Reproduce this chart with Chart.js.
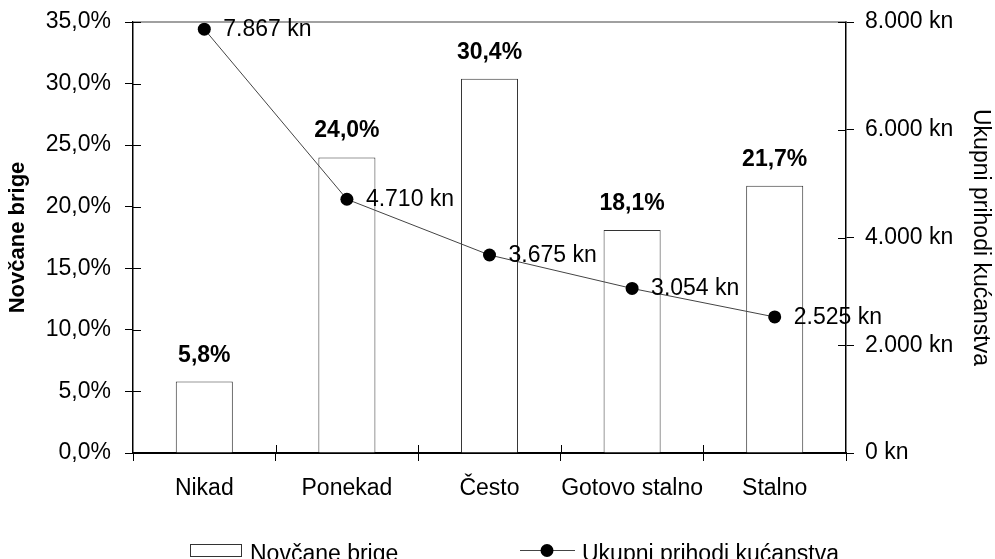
<!DOCTYPE html>
<html lang="hr">
<head>
<meta charset="UTF-8">
<title>Novčane brige i prihodi</title>
<script src="https://cdn.jsdelivr.net/npm/chart.js"></script>
<style>
    body { margin: 0; background: #fff; }
    #wrap { width: 995px; height: 559px; position: relative; }
</style>
</head>
<body>
<div id="wrap"><canvas id="chart"></canvas></div>
<script>
    // data
    const categories = ['Nikad', 'Ponekad', 'Često', 'Gotovo stalno', 'Stalno'];
    const worries = [5.8, 24.0, 30.4, 18.1, 21.7];          // % (left axis)
    const income = [7867, 4710, 3675, 3054, 2525];          // kn (right axis)
    const worriesLabel = 'Novčane brige';
    const incomeLabel = 'Ukupni prihodi kućanstva';

    const FONT = '"Liberation Sans", Arial, sans-serif';
    const SIZE = 23;

    function pct(v) {
        return v.toFixed(1).replace('.', ',') + '%';
    }
    function kn(v) {
        return Math.round(v).toString().replace(/\B(?=(\d{3})+(?!\d))/g, '.') + ' kn';
    }

    // value labels, inner tick halves, top frame line and bottom legend
    const decorations = {
        id: 'decorations',
        afterDatasetsDraw(chart) {
            const ctx = chart.ctx;
            const area = chart.chartArea;
            ctx.save();

            // top frame line
            ctx.strokeStyle = '#808080';
            ctx.lineWidth = 1.5;
            ctx.beginPath();
            ctx.moveTo(area.left, area.top);
            ctx.lineTo(area.right, area.top);
            ctx.stroke();

            // tick marks crossing into the plot
            ctx.strokeStyle = '#000';
            ctx.lineWidth = 1;
            const y = chart.scales.y, y1 = chart.scales.y1, x = chart.scales.x;
            y.ticks.forEach(t => {
                const py = Math.round(y.getPixelForValue(t.value)) + 0.5;
                ctx.beginPath(); ctx.moveTo(area.left, py); ctx.lineTo(area.left + 8, py); ctx.stroke();
            });
            y1.ticks.forEach(t => {
                const py = Math.round(y1.getPixelForValue(t.value)) + 0.5;
                ctx.beginPath(); ctx.moveTo(area.right - 8, py); ctx.lineTo(area.right, py); ctx.stroke();
            });
            for (let i = 1; i < categories.length; i++) {
                const px = Math.round((x.getPixelForValue(i - 1) + x.getPixelForValue(i)) / 2) + 0.5;
                ctx.beginPath(); ctx.moveTo(px, area.bottom - 8); ctx.lineTo(px, area.bottom); ctx.stroke();
            }

            // bar value labels
            ctx.fillStyle = '#000';
            ctx.textAlign = 'center';
            ctx.textBaseline = 'alphabetic';
            ctx.font = 'bold ' + SIZE + 'px ' + FONT;
            chart.getDatasetMeta(0).data.forEach((bar, i) => {
                ctx.fillText(pct(worries[i]), bar.x, bar.y - 20);
            });

            // line value labels
            ctx.textAlign = 'left';
            ctx.font = SIZE + 'px ' + FONT;
            chart.getDatasetMeta(1).data.forEach((pt, i) => {
                ctx.fillText(kn(income[i]), pt.x + 19, pt.y + 7);
            });

            // legend
            ctx.strokeStyle = '#333';
            ctx.lineWidth = 1;
            ctx.fillStyle = '#fff';
            ctx.fillRect(190.5, 544.5, 51, 12);
            ctx.strokeRect(190.5, 544.5, 51, 12);
            ctx.fillStyle = '#000';
            ctx.fillText(worriesLabel, 250, 561);

            ctx.strokeStyle = '#444';
            ctx.beginPath(); ctx.moveTo(520, 550.5); ctx.lineTo(575, 550.5); ctx.stroke();
            ctx.beginPath(); ctx.arc(547, 550.5, 6.5, 0, Math.PI * 2); ctx.fill();
            ctx.fillText(incomeLabel, 582, 561);

            ctx.restore();
        }
    };

    new Chart(document.getElementById('chart'), {
        data: {
            labels: categories,
            datasets: [
                {
                    type: 'bar',
                    label: worriesLabel,
                    data: worries,
                    yAxisID: 'y',
                    backgroundColor: '#fff',
                    borderColor: '#333',
                    borderWidth: 1,
                    barPercentage: 0.4,
                    categoryPercentage: 1.0,
                    order: 1
                },
                {
                    type: 'line',
                    label: incomeLabel,
                    data: income,
                    yAxisID: 'y1',
                    borderColor: '#444',
                    borderWidth: 1,
                    pointRadius: 6.5,
                    pointBackgroundColor: '#000',
                    pointBorderColor: '#000',
                    pointBorderWidth: 0,
                    tension: 0,
                    order: 0
                }
            ]
        },
        options: {
            responsive: true,
            maintainAspectRatio: false,
            animation: false,
            layout: { padding: { top: 22, left: 0, right: 0, bottom: 0 } },
            plugins: {
                legend: { display: false },
                tooltip: { enabled: false }
            },
            scales: {
                x: {
                    offset: true,
                    grid: { offset: true, drawOnChartArea: false, tickLength: 8, color: '#000' },
                    border: { color: '#000', width: 2 },
                    ticks: {
                        color: '#000',
                        font: { family: FONT, size: SIZE },
                        padding: 14,
                        autoSkip: false,
                        maxRotation: 0,
                        minRotation: 0
                    },
                    afterFit(s) { s.height = 106; s.paddingLeft = 0; s.paddingRight = 0; }
                },
                y: {
                    position: 'left',
                    min: 0,
                    max: 35,
                    grid: { drawOnChartArea: false, tickLength: 8, color: '#000' },
                    border: { color: '#000', width: 1.5 },
                    ticks: {
                        stepSize: 5,
                        color: '#000',
                        font: { family: FONT, size: SIZE },
                        padding: 14,
                        callback: v => pct(v)
                    },
                    title: {
                        display: true,
                        text: worriesLabel,
                        color: '#000',
                        font: { family: FONT, size: 22, weight: 'bold' },
                        padding: { top: 5, bottom: 0 }
                    },
                    afterFit(s) { s.width = 133; s.paddingTop = 0; s.paddingBottom = 0; }
                },
                y1: {
                    position: 'right',
                    min: 0,
                    max: 8000,
                    grid: { drawOnChartArea: false, tickLength: 8, color: '#000' },
                    border: { color: '#000', width: 1.5 },
                    ticks: {
                        stepSize: 2000,
                        color: '#000',
                        font: { family: FONT, size: SIZE },
                        padding: 11,
                        callback: v => kn(v)
                    },
                    title: {
                        display: true,
                        text: incomeLabel,
                        color: '#000',
                        font: { family: FONT, size: SIZE },
                        padding: { top: 1, bottom: 0 }
                    },
                    afterFit(s) { s.width = 149; s.paddingTop = 0; s.paddingBottom = 0; }
                }
            }
        },
        plugins: [decorations]
    });
</script>
</body>
</html>
